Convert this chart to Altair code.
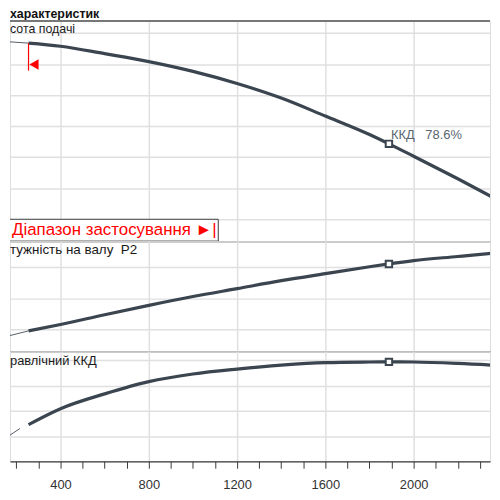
import altair as alt
import pandas as pd

# ---------------- data ----------------
major_ticks = [400, 800, 1200, 1600, 2000]
minor_ticks = list(range(200, 2400, 100))

curve_q = [255, 400, 600, 800, 1000, 1200, 1400, 1600, 1800, 1888, 2000, 2200, 2400]
head_h = [19.35, 19.15, 18.67, 18.16, 17.53, 16.75, 15.81, 14.65, 13.46, 12.86, 12.06, 10.61, 9.10]
power_p = [9.55, 11.62, 14.75, 17.74, 20.57, 23.12, 25.67, 27.93, 30.13, 31.05, 32.10, 33.44, 34.78]
eff_e = [29.0, 41.6, 53.3, 63.0, 69.0, 72.9, 76.0, 78.0, 78.5, 78.6, 78.5, 77.4, 75.6]

head_ext_q = [160, 255]
head_ext_h = [19.44, 19.35]
power_ext_q = [157, 255]
power_ext_p = [7.80, 9.55]
eff_ext_q = [135, 216]
eff_ext_e = [16.5, 25.9]

bep_q = 1888
bep_h = 12.86
bep_p = 31.05
bep_e = 78.6
bep_label = "ККД\u00a0\u00a0\u00a078.6%"

range_q = 255
range_h = [19.35, 17.58]
range_tri_h = 17.97

head_grid = [8, 10, 12, 14, 16, 18, 20]
power_grid = [10, 20, 30]
eff_grid = [20, 40, 60, 80]

title_text = "характеристик"
label_head = "сота подачі"
label_power = "тужність на валу\u00a0 P2"
label_eff = "равлічний ККД"
range_text = "Діапазон застосування ►|"

# ---------------- style ----------------
W = 484
CURVE = "#3a4550"
GRID = "#e0e0e0"
DARK = "#3a3a3a"
RED = "#ff0000"
FONT = "Liberation Sans"

xscale = alt.Scale(domain=[171, 2346], nice=False, zero=False)

x_plain = alt.X("Q:Q", scale=xscale, axis=alt.Axis(
    values=major_ticks, grid=True, gridColor=GRID, gridWidth=1.5,
    labels=False, ticks=False, domain=True, domainColor=DARK, domainWidth=1.3,
    title=None, orient="bottom"))

x_bottom = alt.X("Q:Q", scale=xscale, axis=alt.Axis(
    values=minor_ticks, grid=True, gridColor=GRID, gridWidth=1.5,
    gridOpacity={"condition": {"test": "datum.value % 400 === 0", "value": 1}, "value": 0},
    labelExpr="datum.value % 400 === 0 ? datum.label : ''",
    labels=True, ticks=True, tickSize=7, tickColor=DARK, tickWidth=1,
    domain=True, domainColor=DARK, domainWidth=1.3,
    labelPadding=10, labelFontSize=13, labelColor="#333", labelFont=FONT,
    labelFlush=False, labelOverlap=False,
    title=None, orient="bottom", format="d"))


def yenc(domain, grid):
    return alt.Y("v:Q", scale=alt.Scale(domain=domain, nice=False, zero=False),
                 axis=alt.Axis(values=grid, grid=True, gridColor=GRID, gridWidth=1.5,
                               labels=False, ticks=False, domain=False, title=None))


def panel(xenc, ydom, grid, q, v, eq, ev, bq, bv, label, label_y, label_size):
    y = yenc(ydom, grid)
    main = pd.DataFrame({"Q": q, "v": v})
    ext = pd.DataFrame({"Q": eq, "v": ev})
    bep = pd.DataFrame({"Q": [bq], "v": [bv]})
    lab = pd.DataFrame({"t": [label]})
    layers = [
        alt.Chart(ext).mark_line(clip=True, color="#555d66", strokeWidth=1).encode(x=xenc, y=y),
        alt.Chart(main).mark_line(clip=True, color=CURVE, strokeWidth=3.2,
                                  interpolate="monotone").encode(x=xenc, y=y),
        alt.Chart(bep).mark_point(shape="square", filled=True, fill="white", stroke=CURVE,
                                  strokeWidth=2, size=42, opacity=1).encode(x=xenc, y=y),
        alt.Chart(lab).mark_text(align="left", baseline="middle", fontSize=label_size, font=FONT,
                                 color="#1a1a1a").encode(text="t:N", x=alt.value(0), y=alt.value(label_y)),
    ]
    return layers, y


# panel 1 : head
l1, y1 = panel(x_plain, [6.594, 20.78], head_grid, curve_q, head_h, head_ext_q, head_ext_h,
               bep_q, bep_h, label_head, 8, 12.5)
bep1 = pd.DataFrame({"Q": [bep_q], "v": [bep_h], "t": [bep_label]})
rng = pd.DataFrame({"Q": [range_q], "v": [range_h[0]], "v2": [range_h[1]]})
tri = pd.DataFrame({"Q": [range_q], "v": [range_tri_h]})
box = pd.DataFrame({"t": [range_text]})
ttl = pd.DataFrame({"t": [title_text]})
top = pd.DataFrame({"a": [0]})

l1 += [
    alt.Chart(bep1).mark_text(align="left", baseline="middle", dx=2, dy=-9, fontSize=13,
                              font=FONT, color="#5a6570").encode(x=x_plain, y=y1, text="t:N"),
    alt.Chart(rng).mark_rule(color=RED, strokeWidth=1.2).encode(x=x_plain, y=y1, y2="v2:Q"),
    alt.Chart(tri).mark_point(shape="triangle-left", filled=True, color=RED, opacity=1,
                              size=115, xOffset=5.5).encode(x=x_plain, y=y1),
    alt.Chart(box).mark_rect(clip=True, fill="white", stroke=DARK, strokeWidth=1).encode(
        x=alt.value(-5), x2=alt.value(210), y=alt.value(200), y2=alt.value(222)),
    alt.Chart(box).mark_text(align="left", baseline="middle", fontSize=17, font=FONT,
                             color=RED).encode(text="t:N", x=alt.value(2), y=alt.value(211)),
    alt.Chart(ttl).mark_text(align="left", baseline="alphabetic", fontSize=12.5, font=FONT,
                             fontWeight="bold", color="#111").encode(
        text="t:N", x=alt.value(0), y=alt.value(-3)),
    alt.Chart(top).mark_rule(color="#777", strokeWidth=2).encode(
        x=alt.value(0), x2=alt.value(W), y=alt.value(0)),
]
p1 = alt.layer(*l1).properties(width=W, height=222)

# panel 2 : power
l2, y2 = panel(x_plain, [3.03, 38.38], power_grid, curve_q, power_p, power_ext_q, power_ext_p,
               bep_q, bep_p, label_power, 9, 13.5)
p2 = alt.layer(*l2).properties(width=W, height=111)

# panel 3 : efficiency
l3, y3 = panel(x_bottom, [0, 87.06], eff_grid, curve_q, eff_e, eff_ext_q, eff_ext_e,
               bep_q, bep_e, label_eff, 10, 13)
p3 = alt.layer(*l3).properties(width=W, height=111)

chart = alt.vconcat(p1, p2, p3, spacing=0, bounds="flush").properties(
    padding={"left": 0, "top": -3, "right": 0, "bottom": 4}
).configure_view(strokeWidth=0).configure(font=FONT)

chart.save("out.html", embed_options={"renderer": "svg", "actions": False})
